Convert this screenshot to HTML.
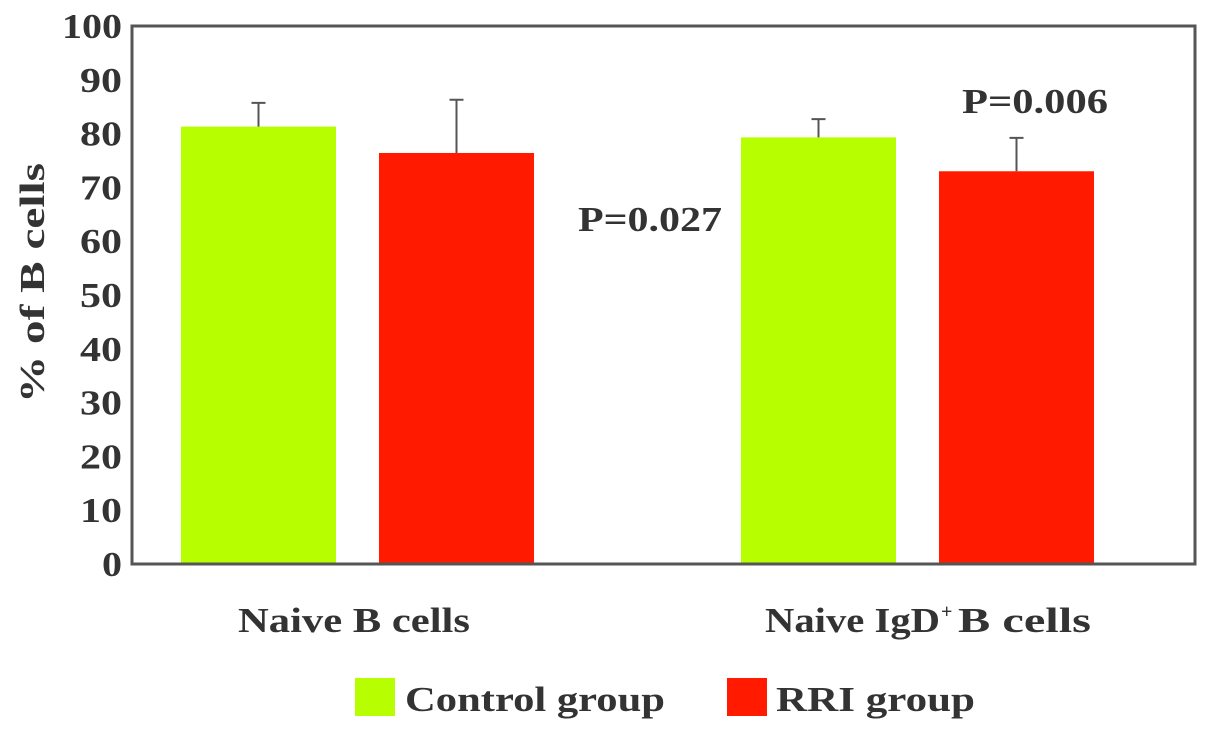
<!DOCTYPE html>
<html><head><meta charset="utf-8"><style>
body{margin:0;background:#fff;}
svg text{font-family:"Liberation Serif",serif;font-weight:bold;fill:#333;}
</style></head><body>
<svg width="1205" height="733">
<g id="plot"></g>
</svg>
<script>
const categories=["Naive B cells","Naive IgD+ B cells"];
const controlValues=[81.3,79.3];
const controlErrors=[4.4,3.4];
const rriValues=[76.4,73.0];
const rriErrors=[9.9,6.2];
const yTicks=[0,10,20,30,40,50,60,70,80,90,100];
const svg=document.querySelector('svg');
const NS="http://www.w3.org/2000/svg";
const X0=132,X1=1195,Y0=564,Y100=26;
function y(v){return Y0-(Y0-Y100)*v/100;}
function mk(t,a,txt){const e=document.createElementNS(NS,t);for(const k in a)e.setAttribute(k,a[k]);if(txt!==undefined)e.textContent=txt;svg.appendChild(e);return e;}
const groupLeft=[181,741];
const barW=155,gap=43;
categories.forEach((c,i)=>{
 const xc=groupLeft[i];
 let r=mk('rect',{x:xc,y:y(controlValues[i]),width:barW,height:Y0-y(controlValues[i]),fill:'#b7ff00'});
 
 
 const xr=xc+barW+gap;
 r=mk('rect',{x:xr,y:y(rriValues[i]),width:barW,height:Y0-y(rriValues[i]),fill:'#ff1a00'});
 
 
 [[xc,controlValues[i],controlErrors[i]],[xr,rriValues[i],rriErrors[i]]].forEach(([bx,v,e],j)=>{
  const cx=bx+barW/2;
  const g=mk('path',{d:`M${cx} ${y(v)}V${y(v+e)}M${cx-7} ${y(v+e)}H${cx+7}`,stroke:'#555','stroke-width':2,fill:'none'});
  
  
 });
});
let f=mk('path',{d:`M${X0} ${Y100}H${X1}V${Y0}H${X0}Z`,stroke:'#555','stroke-width':3,fill:'none'});


yTicks.forEach(t=>{
 const e=mk('text',{x:122,y:y(t)+12,'text-anchor':'end','font-size':35,textLength:(t>=100?60:t>=10?42:20),lengthAdjust:'spacingAndGlyphs'},t);
 
 
});
</script>
<svg width="1205" height="733" style="position:absolute;left:0;top:0">
<text x="44" y="283" transform="rotate(-90 44 283)" text-anchor="middle" font-size="35" textLength="240" lengthAdjust="spacingAndGlyphs">% of B cells</text>
<text x="238" y="632" font-size="35" textLength="232" lengthAdjust="spacingAndGlyphs">Naive B cells</text>
<text x="765" y="632" font-size="35" textLength="175" lengthAdjust="spacingAndGlyphs">Naive IgD</text>
<text x="941" y="618" font-size="20">+</text>
<text x="958" y="632" font-size="35" textLength="133" lengthAdjust="spacingAndGlyphs">B cells</text>
<text x="578" y="231" font-size="35" textLength="144" lengthAdjust="spacingAndGlyphs">P=0.027</text>
<text x="962" y="113" font-size="35" textLength="146" lengthAdjust="spacingAndGlyphs">P=0.006</text>
<rect x="355" y="678" width="40" height="38" fill="#b7ff00"/>
<text x="405" y="711" font-size="35" textLength="260" lengthAdjust="spacingAndGlyphs">Control group</text>
<rect x="727" y="678" width="40" height="38" fill="#ff1a00"/>
<text x="776" y="711" font-size="35" textLength="199" lengthAdjust="spacingAndGlyphs">RRI group</text>
</svg>
</body></html>
